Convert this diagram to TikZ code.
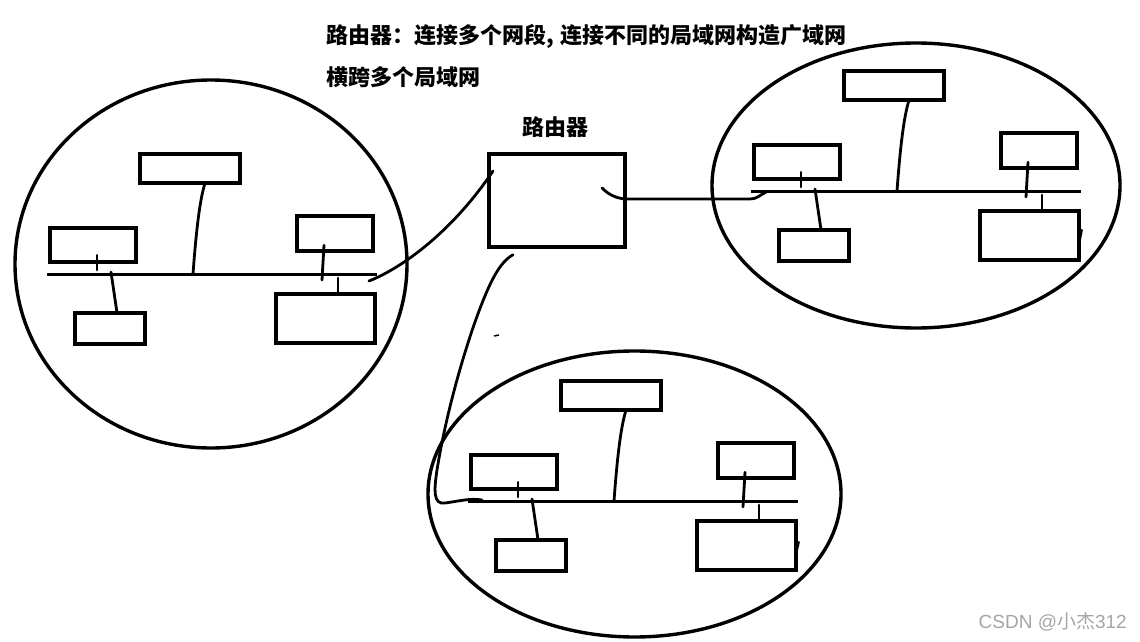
\documentclass[tikz,border=0pt]{standalone}
\usepackage{fontspec}
\newfontfamily\cjk{Noto Sans CJK SC}
\newfontfamily\wmfont{Liberation Sans}
\tikzset{
  lanring/.style={line width=3.4pt},
  hostbox/.style={draw, line width=4.2pt, inner sep=0pt, outer sep=0pt},
  wire/.style={line width=2.8pt, line cap=round},
  busline/.style={line width=3pt},
  titletext/.style={font=\cjk\bfseries\fontsize{22}{26}\selectfont, inner sep=0pt},
}
\newcommand\drawlan[2]{%
\begin{scope}[shift={(#2)}]
  \coordinate (#1bl) at (0,0);
  \coordinate (#1br) at (330,0);
  \coordinate (#1b1) at (146,0);
  \coordinate (#1b2) at (64,-2);
  \coordinate (#1b3) at (275,6);
  \coordinate (#1b4) at (291,4);
  \coordinate (#1b5) at (50,-4);
  \node[hostbox, minimum width=100.5pt, minimum height=29.5pt] (#1T) at (143,-105.5) {};
  \node[hostbox, minimum width=86.5pt, minimum height=34.5pt] (#1A) at (46,-29) {};
  \node[hostbox, minimum width=70.5pt, minimum height=31.5pt] (#1C) at (63,54.5) {};
  \node[hostbox, minimum width=76.5pt, minimum height=35.5pt] (#1D) at (288,-40.5) {};
  \node[hostbox, minimum width=99.5pt, minimum height=49.5pt] (#1E) at (278.5,44.5) {};
  \draw[busline] (#1bl) -- (#1br);
  \draw[wire] ([xshift=15pt]#1T.south) .. controls (154,-78) and (150,-55) .. (#1b1);
  \draw[wire] ([xshift=4pt,yshift=7pt]#1A.south) -- (#1b5);
  \draw[wire] (#1b2) -- ([xshift=7pt]#1C.north);
  \draw[wire] ([xshift=-11pt,yshift=6pt]#1D.south) -- (#1b3);
  \draw[wire] (#1b4) -- ([xshift=12.5pt]#1E.north);
\end{scope}}
\begin{document}
\begin{tikzpicture}[x=1pt,y=-1pt]
  \useasboundingbox (0,0) rectangle (1140,642);
  % titles
  \node[titletext, anchor=west] (t1) at (326,36) {路由器：连接多个网段,\hspace{0.3em}连接不同的局域网构造广域网};
  \node[titletext, anchor=west] (t2) at (326,77) {横跨多个局域网};
  \node[titletext] (rl) at (555,127) {路由器};
  % LAN rings
  \draw[lanring] (211,264) ellipse [x radius=196pt, y radius=184pt];
  \draw[lanring] (916,185.5) ellipse [x radius=204pt, y radius=142.5pt];
  \draw[lanring] (634.5,494) ellipse [x radius=206.5pt, y radius=143pt];
  % LANs
  \drawlan{L}{47,274}
  \drawlan{Q}{751,191}
  \drawlan{B}{468,501}
  % small ticks on big boxes
  \draw[wire, line width=2.2pt] ([xshift=2.5pt,yshift=5.5pt]QE.east) -- ([yshift=-7.5pt]QE.east);
  \draw[wire, line width=2.2pt] ([xshift=2.5pt,yshift=3.5pt]BE.east) -- ([yshift=-7.5pt]BE.east);
  % router
  \node[hostbox, minimum width=136pt, minimum height=93pt] (R) at (557,200.5) {};
  % router links
  \coordinate (Lx) at (369,281);
  \coordinate (Qx) at (766,192);
  \coordinate (Bx) at (482,500);
  \draw[wire] (Lx) .. controls (402,268) and (452,232) .. ([xshift=4pt,yshift=-17pt]R.north west);
  \draw[wire] ([xshift=-23pt,yshift=12.5pt]R.east) .. controls (608,194) and (615,198) .. (625,199)
     -- (750,199) .. controls (757,199) and (760,195) .. (Qx);
  \draw[wire] ([xshift=-44pt,yshift=-7.75pt]R.south) .. controls (500,262) and (490,280) .. (475,322)
     .. controls (460,365) and (445,420) .. (437,470)
     .. controls (434,490) and (433,505) .. (445,503)
     .. controls (460,501) and (470,498) .. (Bx);
  \draw[line width=1.5pt] (494,336) -- (499,335);
  % watermark
  \node[anchor=east, inner sep=0pt, text=gray!70, font=\wmfont\fontsize{19}{22}\selectfont] (wm) at (1127,622) {CSDN @{\cjk 小杰}312};
\end{tikzpicture}
\end{document}
